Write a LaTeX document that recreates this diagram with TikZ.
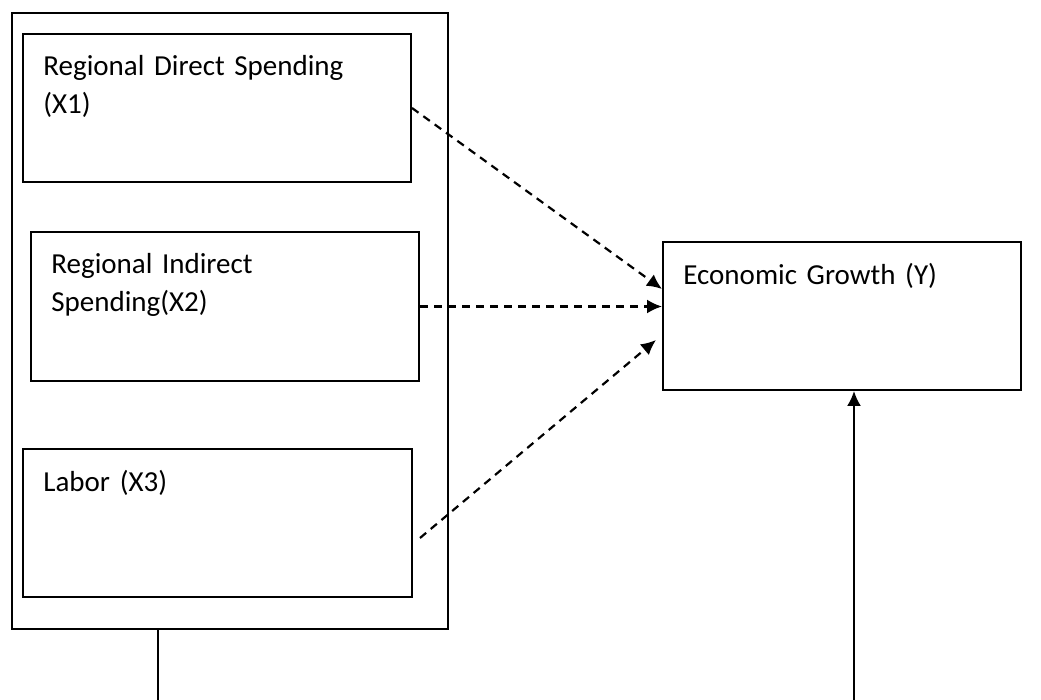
\documentclass[tikz,border=0pt]{standalone}
\usepackage{fontspec}
\setmainfont{Carlito}
\usetikzlibrary{calc,positioning,arrows.meta}
\tikzset{
  varbox/.style={draw,line width=1pt,inner sep=0pt,anchor=north west},
  boxtext/.style={anchor=north west,inner sep=0pt,align=left,text width=180pt,
    font=\fontsize{14.5pt}{19pt}\selectfont},
  effect/.style={line width=1.1pt,dash pattern=on 4pt off 3pt,-{Latex[length=7.5pt,width=7pt]}},
  link/.style={line width=1pt}
}

\begin{document}
\begin{tikzpicture}[x=0.5pt,y=-0.5pt]
	\useasboundingbox (0,0) rectangle (1041,700);
	%BOXES
	\node[varbox,minimum width=218pt,minimum height=308pt] (outer) at (11,12) {};
	\node[varbox,minimum width=194pt,minimum height=74pt] (x1) at (22,33) {};
	\node[varbox,minimum width=194pt,minimum height=74.5pt] (x2) at (30,231) {};
	\node[varbox,minimum width=194.5pt,minimum height=74pt] (x3) at (22,448) {};
	\node[varbox,minimum width=179pt,minimum height=74pt] (y) at (662,241) {};
	%TEXTS
	\node[boxtext,below right=11pt and 10.5pt of x1.north west] (tx1) {Regional Direct Spending\\(X1)};
	\node[boxtext,below right=11pt and 10.5pt of x2.north west] (tx2) {Regional Indirect\\Spending(X2)};
	\node[boxtext,below right=11pt and 10.5pt of x3.north west] (tx3) {Labor (X3)};
	\node[boxtext,below right=11pt and 10.5pt of y.north west] (ty) {Economic Growth (Y)};
	%ARROWS
	\coordinate (s3) at ($(x3.east)+(7,15)$);
	\draw[effect] (x1.east) -- ($(y.north west)+(0,48)$);
	\draw[effect] (x2.east) -- (x2.east -| y.west);
	\draw[effect] (s3) -- ($(y.north west)+(-6,99)$);
	\coordinate (down1) at ($(outer.south west)+(147,72)$);
	\coordinate (down2) at ($(y.south west)+(192,311)$);
	\draw[link] ($(outer.south west)+(147,0)$) -- (down1);
	\draw[link,-{Latex[length=7.5pt,width=7pt]}] (down2) -- (down2 |- y.south);
\end{tikzpicture}
\end{document}
